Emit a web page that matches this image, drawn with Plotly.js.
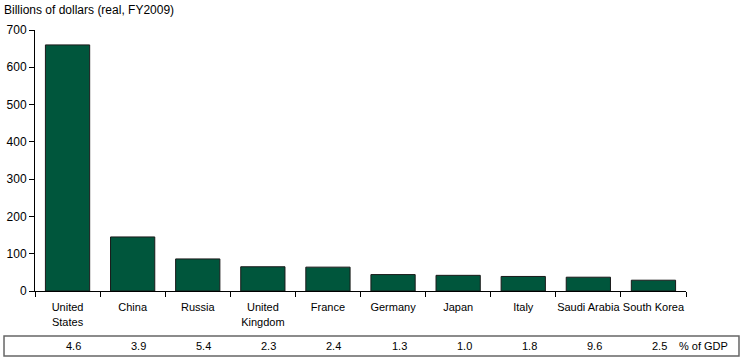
<!DOCTYPE html>
<html><head><meta charset="utf-8">
<script src="https://cdn.plot.ly/plotly-3.0.1.min.js"></script>
<style>body{margin:0;background:#fff}#chart{width:746px;height:361px}</style>
</head><body><div id="chart"></div>
<script>
const categories = ["United<br>States","China","Russia","United<br>Kingdom","France","Germany","Japan","Italy","Saudi Arabia","South Korea"];
const spending = [660,145,86,65,64,44,42,39,37,29];
const pctGDP = ["4.6","3.9","5.4","2.3","2.4","1.3","1.0","1.8","9.6","2.5"];
const yTicks = [0,100,200,300,400,500,600,700];

const fontFam = "Liberation Sans, Arial, sans-serif";
const annotations = categories.map((c,i)=>({
  x: c, xref:'x', y:-0.21, yref:'paper', text: pctGDP[i], showarrow:false,
  xshift: 6, font:{family:fontFam,size:11,color:'#000'}, yanchor:'middle'
}));
annotations.push({x:1.0, xref:'paper', y:-0.21, yref:'paper', text:'% of GDP', showarrow:false,
  xanchor:'left', xshift:-9, font:{family:fontFam,size:11,color:'#000'}, yanchor:'middle'});
annotations.push({x:0, xref:'paper', xanchor:'left', xshift:-33, y:1, yref:'paper', yanchor:'bottom', yshift:11,
  text:'Billions of dollars (real, FY2009)', showarrow:false, font:{family:fontFam,size:12,color:'#000'}});

Plotly.newPlot('chart',[{
  type:'bar', x:categories, y:spending,
  marker:{color:'#00563c', line:{color:'#1a1a1a', width:1}},
  width:0.68, hoverinfo:'none'
}],{
  width:746, height:361,
  margin:{l:35, r:60, t:30, b:70},
  paper_bgcolor:'#fff', plot_bgcolor:'#fff',
  showlegend:false,
  font:{family:fontFam, size:11, color:'#000'},
  xaxis:{type:'category', showline:true, linecolor:'#000', linewidth:1,
    ticks:'outside', tickson:'boundaries', ticklen:5, tickcolor:'#000',
    tickangle:0, automargin:false, ticklabelstandoff:6,
    tickfont:{size:11}, showgrid:false, zeroline:false},
  yaxis:{range:[0,700], tickvals:yTicks, showline:true, linecolor:'#000', linewidth:1,
    ticks:'outside', ticklen:5, tickcolor:'#000', tickfont:{size:12},
    showgrid:false, zeroline:false, fixedrange:true, automargin:false},
  shapes:[{type:'rect', xref:'paper', yref:'paper', x0:-0.0476, x1:1.0814, y0:-0.1724, y1:-0.249,
    line:{color:'#666', width:1.5}, fillcolor:'rgba(0,0,0,0)'}],
  annotations: annotations
},{staticPlot:true});
</script></body></html>
